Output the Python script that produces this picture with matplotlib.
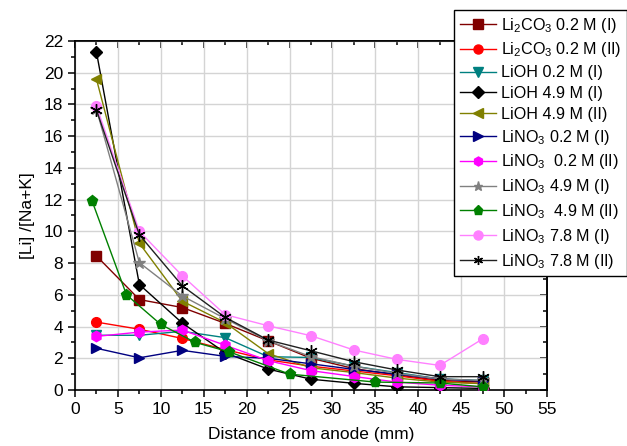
import matplotlib
matplotlib.use("Agg")
import matplotlib.pyplot as plt
from matplotlib.ticker import MultipleLocator

plt.rcParams["font.family"] = ["Liberation Sans", "DejaVu Sans"]
plt.rcParams["mathtext.fontset"] = "custom"
plt.rcParams["mathtext.rm"] = "Liberation Sans"
plt.rcParams["mathtext.it"] = "Liberation Sans:italic"

# distance from anode (mm)
x_std = [2.5, 7.5, 12.5, 17.5, 22.5, 27.5, 32.5, 37.5, 42.5, 47.5]
x_lino3_49_ii = [2.0, 6.0, 10.0, 14.0, 18.0, 25.0, 35.0, 42.5, 47.5]

# [Li]/[Na+K] per series
li2co3_02_i = [8.45, 5.7, 5.2, 4.2, 3.1, 2.0, 1.35, 0.95, 0.6, 0.5]
li2co3_02_ii = [4.28, 3.83, 3.25, 2.55, 1.9, 1.5, 1.2, 0.9, 0.55, 0.4]
lioh_02_i = [3.45, 3.45, 3.7, 3.3, 2.1, 2.05, 1.5, 1.1, 0.7, 0.6]
lioh_49_i = [21.3, 6.65, 4.22, 2.35, 1.32, 0.68, 0.42, 0.2, 0.15, 0.1]
lioh_49_ii = [19.6, 9.25, 5.6, 4.25, 2.3, 1.4, 1.1, 0.75, 0.5, 0.4]
lino3_02_i = [2.63, 2.03, 2.5, 2.12, 2.0, 1.65, 1.3, 1.0, 0.7, 0.55]
lino3_02_ii = [3.38, 3.65, 3.78, 2.82, 1.85, 1.22, 0.85, 0.5, 0.3, 0.2]
lino3_49_i = [17.7, 8.03, 5.93, 4.5, 3.1, 2.1, 1.5, 1.05, 0.7, 0.6]
lino3_49_ii = [11.9, 6.0, 4.13, 3.0, 2.4, 1.0, 0.5, 0.44, 0.2]
lino3_78_i = [17.9, 10.0, 7.2, 4.75, 4.05, 3.42, 2.52, 1.93, 1.55, 3.22]
lino3_78_ii = [17.65, 9.78, 6.57, 4.58, 3.15, 2.47, 1.78, 1.26, 0.84, 0.84]

# (label, x, y, line color, marker, marker color, marker size)
SERIES = [
    (r"Li$_2$CO$_3$ 0.2 M (I)", x_std, li2co3_02_i, "#800000", "s", "#800000", 6.5),
    (r"Li$_2$CO$_3$ 0.2 M (II)", x_std, li2co3_02_ii, "#ff0000", "o", "#ff0000", 7),
    ("LiOH 0.2 M (I)", x_std, lioh_02_i, "#008080", "v", "#008080", 7.5),
    ("LiOH 4.9 M (I)", x_std, lioh_49_i, "#000000", "D", "#000000", 6),
    ("LiOH 4.9 M (II)", x_std, lioh_49_ii, "#808000", "<", "#808000", 7.5),
    (r"LiNO$_3$ 0.2 M (I)", x_std, lino3_02_i, "#000080", ">", "#000080", 7.5),
    (r"LiNO$_3$  0.2 M (II)", x_std, lino3_02_ii, "#ff00ff", "h", "#ff00ff", 7.5),
    (r"LiNO$_3$ 4.9 M (I)", x_std, lino3_49_i, "#808080", "*", "#808080", 9),
    (r"LiNO$_3$  4.9 M (II)", x_lino3_49_ii, lino3_49_ii, "#008000", "p", "#008000", 8),
    (r"LiNO$_3$ 7.8 M (I)", x_std, lino3_78_i, "#ff80ff", "o", "#ff80ff", 7),
    (r"LiNO$_3$ 7.8 M (II)", x_std, lino3_78_ii, "#202020", (6, 2, 0), "#000000", 9),
]

fig = plt.figure(figsize=(6.27, 4.46), dpi=100)
ax = fig.add_axes([75 / 627, 56 / 446, 472 / 627, 349 / 446])

for label, xs, ys, lc, mk, mc, ms in SERIES:
    ax.plot(xs, ys, "-", color=lc, linewidth=1.0, marker=mk, markersize=ms,
            markerfacecolor=mc, markeredgecolor=mc, markeredgewidth=1.0,
            label=label, zorder=3)

ax.set_xlim(0, 55)
ax.set_ylim(0, 22)
ax.xaxis.set_major_locator(MultipleLocator(5))
ax.xaxis.set_minor_locator(MultipleLocator(2.5))
ax.yaxis.set_major_locator(MultipleLocator(2))
ax.yaxis.set_minor_locator(MultipleLocator(1))
ax.grid(True, which="major", color="#d4d4d4", linewidth=1.0, zorder=0)
ax.set_axisbelow(True)
ax.tick_params(which="both", direction="out", labelsize=12.5, width=1.1, colors="black")
ax.tick_params(which="major", length=5)
ax.tick_params(which="minor", length=3)
for sp in ax.spines.values():
    sp.set_linewidth(1.2)

# top / right ticks point inward
top = ax.secondary_xaxis("top")
top.xaxis.set_major_locator(MultipleLocator(5))
top.xaxis.set_minor_locator(MultipleLocator(2.5))
top.tick_params(which="both", direction="in", labeltop=False, width=1.1)
top.tick_params(which="major", length=5)
top.tick_params(which="minor", length=3)
right = ax.secondary_yaxis("right")
right.yaxis.set_major_locator(MultipleLocator(2))
right.yaxis.set_minor_locator(MultipleLocator(1))
right.tick_params(which="both", direction="in", labelright=False, width=1.1)
right.tick_params(which="major", length=5)
right.tick_params(which="minor", length=3)
top.spines["top"].set_linewidth(1.2)
right.spines["right"].set_linewidth(1.2)

ax.set_xlabel("Distance from anode (mm)", fontsize=12.5, labelpad=7)
ax.set_ylabel("[Li] /[Na+K]", fontsize=12.5, labelpad=6)

handles, labels = ax.get_legend_handles_labels()
leg = fig.legend(handles, labels, loc="upper right",
                 bbox_to_anchor=(627 / 627, 1 - 10 / 446),
                 fontsize=11.6, frameon=True, fancybox=False, framealpha=1,
                 edgecolor="black", handlelength=2.25, handletextpad=0.3,
                 labelspacing=0.36, borderpad=0.35, borderaxespad=0.0)
leg.get_frame().set_linewidth(1.0)
for h in leg.legend_handles:
    h.set_markersize(6.5)

fig.savefig("out.png", dpi=100)
